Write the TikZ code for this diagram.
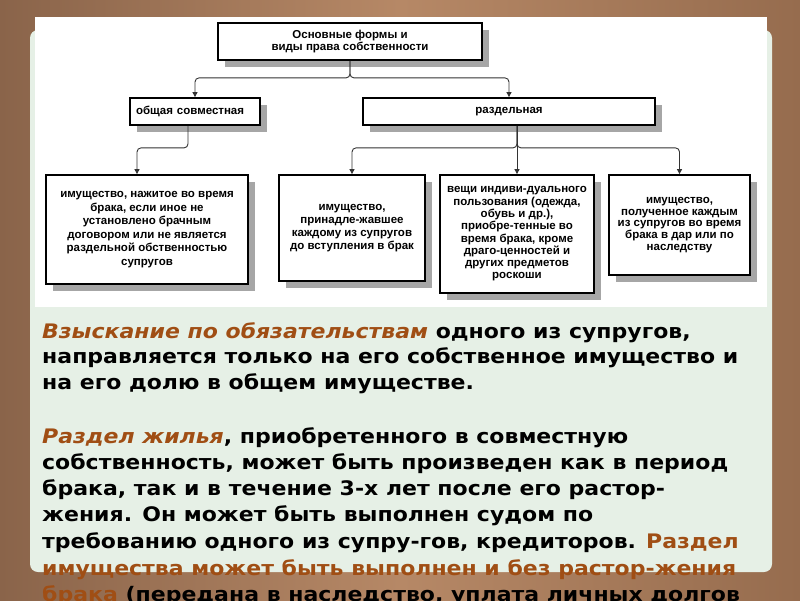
\documentclass[tikz,border=0pt]{standalone}
\usepackage{fontspec}
\setmainfont{DejaVu Sans}
\newfontfamily\bodyfont{DejaVu Sans}[FakeStretch=1.1]
\newfontfamily\diag{Liberation Sans}
\usetikzlibrary{arrows.meta,shadows}
\definecolor{frameA}{RGB}{138,100,74}
\definecolor{frameB}{RGB}{182,136,102}
\definecolor{frameC}{RGB}{150,108,78}
\definecolor{panel}{RGB}{230,240,230}
\definecolor{accent}{RGB}{160,78,20}
\begin{document}
\begin{tikzpicture}[x=1pt,y=-1pt,
  box/.style={draw=black, line width=1.8pt, fill=white,
    general shadow={fill=black!35, shadow xshift=7pt, shadow yshift=-7pt},
    inner sep=0pt, align=center,
    font=\diag\bfseries\fontsize{11.5}{12.8}\selectfont},
  conn/.style={draw=black!80, line width=0.9pt, rounded corners=4pt,
    -{Triangle[width=5pt,length=5pt]}},
  para/.style={anchor=base west, inner sep=0pt,
    font=\bodyfont\bfseries\fontsize{20}{26}\selectfont}]
\useasboundingbox (0,0) rectangle (800,600);
\clip (0,0) rectangle (800,600);
\shade[left color=frameA, right color=frameC, middle color=frameB] (0,0) rectangle (800,600);
\fill[panel, rounded corners=8pt] (30,30) rectangle (772,572);
\fill[white] (35,17) rectangle (767,307);

\node[box, minimum width=264pt, minimum height=37pt] (top) at (350,41.5)
  {Основные формы и\\виды права собственности};
\node[box, minimum width=130pt, minimum height=27pt, text width=118pt, align=left] (common) at (195,111.5)
  {общая совместная};
\node[box, minimum width=292pt, minimum height=27pt] (separate) at (509,111.5)
  {раздельная};
\node[box, minimum width=202pt, minimum height=109pt, font=\diag\bfseries\fontsize{11.5}{13.5}\selectfont] (b1) at (147,229.5)
  {имущество, нажитое во время\\брака, если иное не\\установлено брачным\\договором или не является\\раздельной обственностью\\супругов};
\node[box, minimum width=146pt, minimum height=106pt] (b2) at (352,228)
  {имущество,\\принадле-жавшее\\каждому из супругов\\до вступления в брак};
\node[box, minimum width=154pt, minimum height=118pt, font=\diag\bfseries\fontsize{11.5}{12.3}\selectfont] (b3) at (517,234)
  {вещи индиви-дуального\\пользования (одежда,\\обувь и др.),\\приобре-тенные во\\время брака, кроме\\драго-ценностей и\\других предметов\\роскоши};
\node[box, minimum width=141pt, minimum height=100pt, font=\diag\bfseries\fontsize{11.5}{11.8}\selectfont] (b4) at (679.5,225)
  {имущество,\\полученное каждым\\из супругов во время\\брака в дар или по\\наследству};

\draw[conn] (top.south) -- ++(0,17) -| (common.north);
\draw[conn] (top.south) -- ++(0,17) -| (separate.north);
\draw[conn] ([xshift=-7pt]common.south) -- ++(0,22) -| ([xshift=-10pt]b1.north);
\draw[conn] ([xshift=8pt]separate.south) -- ++(0,22) -| (b2.north);
\draw[conn] ([xshift=8pt]separate.south) -- (b3.north);
\draw[conn] ([xshift=8pt]separate.south) -- ++(0,22) -| (b4.north);

\node[para] (l1) at (42,338) {\textcolor{accent}{\itshape Взыскание по обязательствам} одного из супругов,};
\node[para] (l2) at (42,363) {направляется только на его собственное имущество и};
\node[para] (l3) at (42,389) {на его долю в общем имуществе.};
\node[para] (l4) at (42,443) {\textcolor{accent}{\itshape Раздел жилья}, приобретенного в совместную};
\node[para] (l5) at (42,469) {собственность, может быть произведен как в период};
\node[para] (l6) at (42,495) {брака, так и в течение 3-х лет после его растор-};
\node[para] (l7) at (42,521) {жения. Он может быть выполнен судом по};
\node[para] (l8) at (42,548) {требованию одного из супру-гов, кредиторов. \textcolor{accent}{Раздел}};
\node[para] (l9) at (42,575) {\textcolor{accent}{имущества может быть выполнен и без растор-жения}};
\node[para] (l10) at (42,601) {\textcolor{accent}{брака} (передана в наследство, уплата личных долгов};
\end{tikzpicture}
\end{document}
